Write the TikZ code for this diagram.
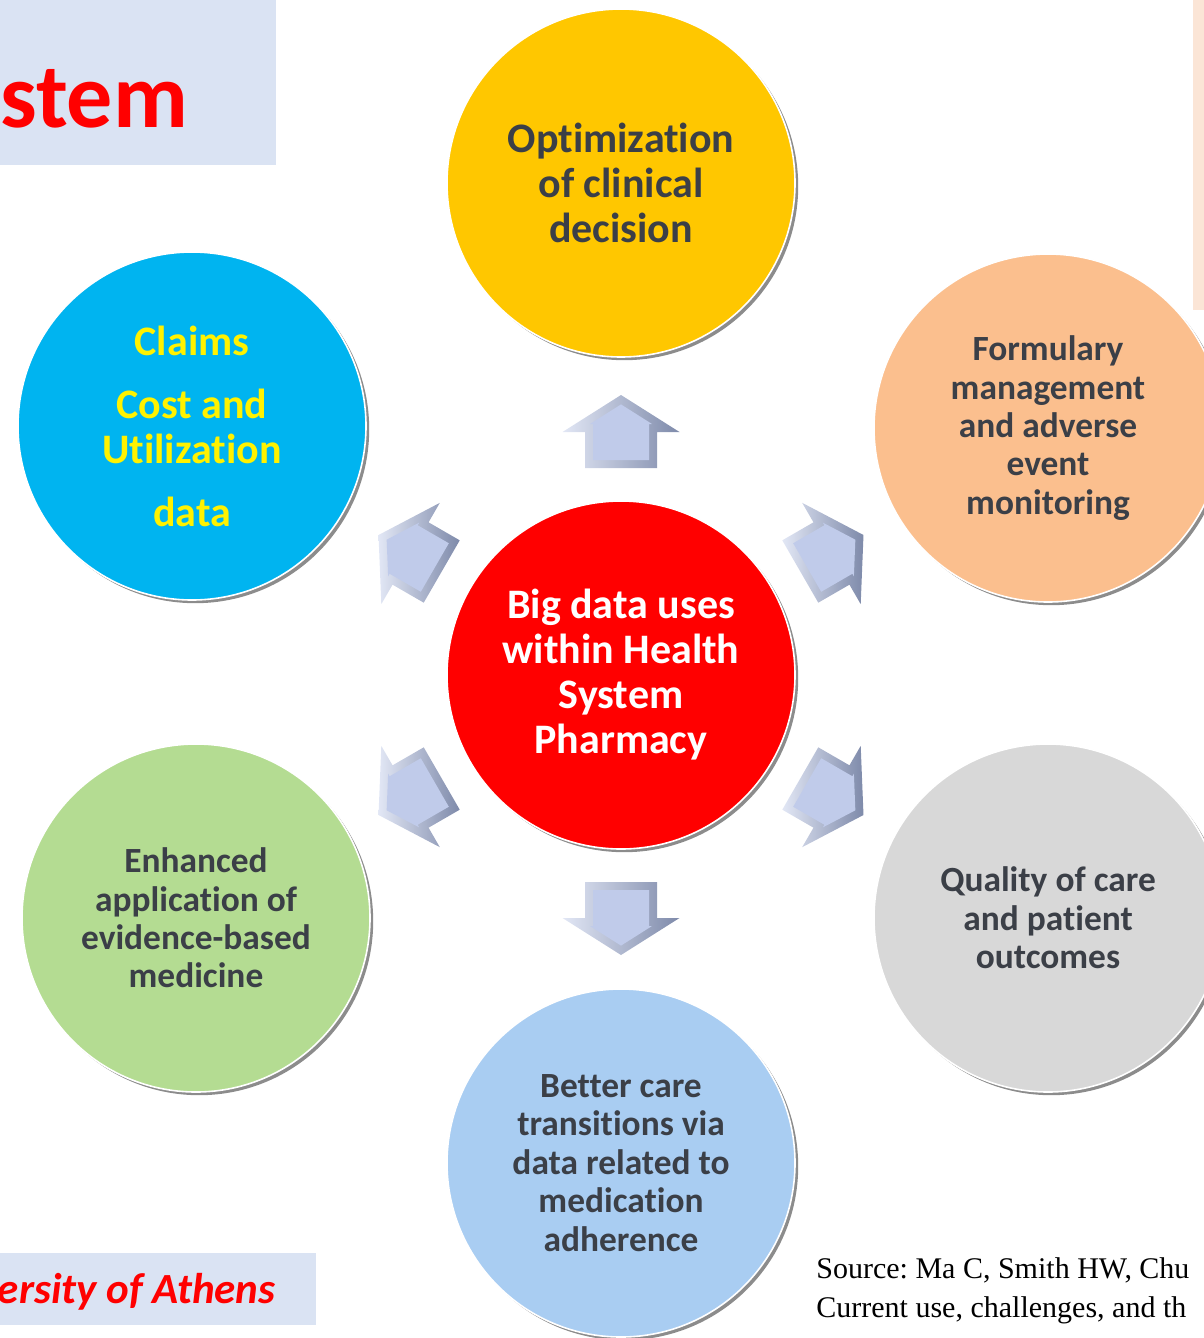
\documentclass[tikz,border=0pt]{standalone}
\usepackage{fontspec}
\setmainfont{Carlito}[Ligatures={NoCommon}]
\newfontfamily\srcfont{Liberation Serif}
\usetikzlibrary{shadows}
\frenchspacing

\definecolor{boxblue}{HTML}{DAE3F3}
\definecolor{boxpink}{HTML}{FBE5D6}
\definecolor{inkgray}{HTML}{3B3F47}
\definecolor{clrgold}{HTML}{FFC700}
\definecolor{clrsky}{HTML}{00B4F0}
\definecolor{clrpeach}{HTML}{FBBF8E}
\definecolor{clrgreen}{HTML}{B4DC92}
\definecolor{clrsilver}{HTML}{D8D8D8}
\definecolor{clrpale}{HTML}{A9CDF2}
\definecolor{arrowdark}{HTML}{7E8AAA}
\definecolor{arrowlight}{HTML}{E2E7F5}
\definecolor{arrowface}{HTML}{C0CBEA}

\begin{document}
\begin{tikzpicture}[x=0.5pt,y=-0.5pt,
  bubble/.style={circle, minimum size=174pt, inner sep=0pt, align=center,
    draw=white, line width=0.8pt,
    drop shadow={shadow xshift=1.6pt, shadow yshift=-1.6pt, fill=black, opacity=0.45},
    font=\bfseries\fontsize{17.7}{19.2}\selectfont, text=inkgray},
  bigtext/.style={font=\bfseries\fontsize{21}{22.5}\selectfont},
  arrowrim/.style={left color=arrowlight, right color=arrowdark},
  arrowinset/.style={fill=arrowface}]
   \useasboundingbox (0,0) rectangle (1204,1338);

   % side boxes of the slide
   \fill[boxblue] (0,0) rectangle (276,165);
   \node(title)[anchor=base west, inner sep=0pt, text=red,
     font=\bfseries\fontsize{46}{50}\selectfont] at (0,127) {stem};
   \fill[boxpink] (1193,0) rectangle (1204,310);
   \fill[boxblue] (0,1253) rectangle (316,1325);
   \node(univ)[anchor=base east, inner sep=0pt, text=red,
     font=\bfseries\itshape\fontsize{21.5}{24}\selectfont] at (276,1303) {ersity of Athens};

   % circles
   \node(optim)[bubble, fill=clrgold, bigtext] at (621,183) {Optimization\\of clinical\\decision};
   \node(claims)[bubble, fill=clrsky, text=yellow, bigtext] at (192,426)
     {Claims\\[9pt]Cost and\\Utilization\\[9pt]data};
   \node(formul)[bubble, fill=clrpeach] at (1048,428)
     {Formulary\\management\\and adverse\\event\\monitoring};
   \node(hub)[bubble, fill=red, text=white, bigtext] at (621,675)
     {Big data uses\\within Health\\System\\Pharmacy};
   \node(evid)[bubble, fill=clrgreen] at (196,918)
     {Enhanced\\application of\\evidence-based\\medicine};
   \node(quality)[bubble, fill=clrsilver] at (1048,918) {Quality of care\\and patient\\outcomes};
   \node(transit)[bubble, fill=clrpale] at (621,1163)
     {Better care\\transitions via\\data related to\\medication\\adherence};

   % block arrows round the hub
   \foreach \ang in {30,90,150,210,270,330}{
     \begin{scope}[shift={(hub.center)}, rotate=\ang-90]
       \shade[arrowrim] (-18pt,103.5pt) -- (18pt,103.5pt) -- (18pt,121.5pt) -- (29.25pt,121.5pt)
         -- (0pt,140pt) -- (-29.25pt,121.5pt) -- (-18pt,121.5pt) -- cycle;
       \fill[arrowinset] (-14pt,107.5pt) -- (14pt,107.5pt) -- (14pt,125.5pt) -- (15.5pt,125.5pt)
         -- (0pt,135.3pt) -- (-15.5pt,125.5pt) -- (-14pt,125.5pt) -- cycle;
     \end{scope}
   }

   % source
   \node(src1)[anchor=base west, inner sep=0pt, font=\srcfont\fontsize{15}{19}\selectfont]
     at (816,1278) {Source: Ma C, Smith HW, Chu};
   \node(src2)[anchor=base west, inner sep=0pt, font=\srcfont\fontsize{15}{19}\selectfont]
     at (816,1317) {Current use, challenges, and th};
  \end{tikzpicture}
\end{document}
